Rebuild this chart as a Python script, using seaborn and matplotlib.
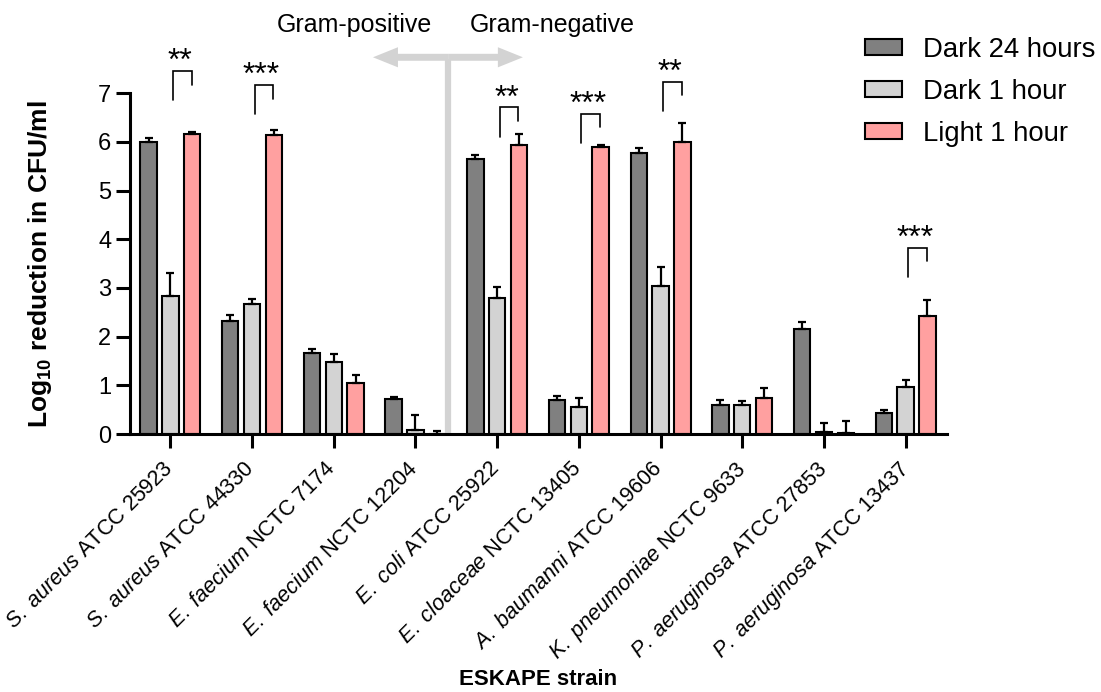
import matplotlib

matplotlib.use("Agg")

import matplotlib.pyplot as plt
import matplotlib.transforms as mtransforms
import pandas as pd
import seaborn as sns
from matplotlib.patches import FancyArrowPatch


species = ["S. aureus", "S. aureus", "E. faecium", "E. faecium", "E. coli",
           "E. cloaceae", "A. baumanni", "K. pneumoniae", "P. aeruginosa", "P. aeruginosa"]
strain_ids = ["ATCC 25923", "ATCC 44330", "NCTC 7174", "NCTC 12204", "ATCC 25922",
              "NCTC 13405", "ATCC 19606", "NCTC 9633", "ATCC 27853", "ATCC 13437"]
conditions = ["Dark 24 hours", "Dark 1 hour", "Light 1 hour"]

dark24 = [6.00, 2.33, 1.67, 0.72, 5.64, 0.70, 5.78, 0.60, 2.15, 0.44]
dark24_err = [0.09, 0.11, 0.07, 0.05, 0.10, 0.09, 0.09, 0.09, 0.16, 0.06]
dark1 = [2.83, 2.67, 1.48, 0.09, 2.80, 0.55, 3.05, 0.60, 0.04, 0.96]
dark1_err = [0.47, 0.11, 0.17, 0.31, 0.23, 0.19, 0.39, 0.08, 0.19, 0.14]
light1 = [6.17, 6.15, 1.05, 0.01, 5.93, 5.89, 6.00, 0.74, 0.03, 2.43]
light1_err = [0.04, 0.10, 0.16, 0.06, 0.23, 0.05, 0.40, 0.21, 0.24, 0.32]

# significance: Dark 1 hour vs Light 1 hour
sig_groups = [0, 1, 4, 5, 6, 9]
sig_labels = ["**", "***", "**", "***", "**", "***"]
sig_levels = [7.46, 7.17, 6.71, 6.58, 7.24, 3.83]

colors = ["#808080", "#d3d3d3", "#ffa0a0"]


def build_frame():
    labels = [f"{sp} {sid}" for sp, sid in zip(species, strain_ids)]
    rows = []
    for cond, vals in zip(conditions, [dark24, dark1, light1]):
        for lab, v in zip(labels, vals):
            rows.append({"strain": lab, "condition": cond, "value": v})
    return pd.DataFrame(rows), labels


def main():
    sns.set_style("ticks")
    plt.rcParams["font.family"] = ["Liberation Sans", "DejaVu Sans"]
    plt.rcParams["mathtext.fontset"] = "custom"
    plt.rcParams["mathtext.rm"] = "Liberation Sans"
    plt.rcParams["mathtext.it"] = "Liberation Sans:italic"
    plt.rcParams["mathtext.bf"] = "Liberation Sans:bold"
    plt.rcParams["text.color"] = "black"
    plt.rcParams["axes.labelcolor"] = "black"
    plt.rcParams["xtick.color"] = "black"
    plt.rcParams["ytick.color"] = "black"
    plt.rcParams["axes.edgecolor"] = "black"

    df, labels = build_frame()

    fig = plt.figure(figsize=(11.01, 6.92), dpi=100)
    ax = fig.add_axes([129.5 / 1101, 1 - 434 / 692, 817 / 1101, (434 - 93.3) / 692])

    sns.barplot(data=df, x="strain", y="value", hue="condition", order=labels,
                hue_order=conditions, palette=colors, saturation=1,
                edgecolor="black", linewidth=1.5, gap=0.25, errorbar=None,
                legend=True, ax=ax)

    for cont, errs in zip(ax.containers, [dark24_err, dark1_err, light1_err]):
        xs = [p.get_x() + p.get_width() / 2 for p in cont.patches]
        ys = [p.get_height() for p in cont.patches]
        ax.errorbar(xs, ys, yerr=[[0] * len(errs), errs], fmt="none",
                    ecolor="black", elinewidth=1.6, capsize=3, capthick=1.6,
                    zorder=1)

    ax.set_xlim(-0.5, 9.5)
    ax.set_ylim(0, 7)
    ax.set_yticks(range(0, 8))
    sns.despine(ax=ax)
    for side in ("left", "bottom"):
        ax.spines[side].set_linewidth(2.2)
    ax.tick_params(axis="both", width=2.2, length=10, color="black")
    ax.tick_params(axis="y", labelsize=17, pad=3)

    tick_texts = []
    for sp, sid in zip(species, strain_ids):
        tick_texts.append(r"$\mathit{" + sp.replace(" ", r"\ ") + "}$ " + sid)
    ax.set_xticks(range(len(labels)))
    ax.set_xticklabels(tick_texts, rotation=45, ha="right",
                       rotation_mode="anchor", fontsize=15.5)
    ax.tick_params(axis="x", pad=5)
    shift = mtransforms.ScaledTranslation(-6 / 72, -2 / 72, fig.dpi_scale_trans)
    for t in ax.get_xticklabels():
        t.set_transform(t.get_transform() + shift)

    ax.set_xlabel("ESKAPE strain", fontsize=16, fontweight="bold", labelpad=3)
    ax.set_ylabel(r"Log$_{\mathbf{10}}$ reduction in CFU/ml", fontsize=19,
                  fontweight="bold", labelpad=32)

    # significance brackets between Dark 1 hour and Light 1 hour
    for g, lab, lvl in zip(sig_groups, sig_labels, sig_levels):
        x0, x1 = g + 0.03, g + 0.26
        ax.plot([x0, x0, x1, x1], [lvl - 0.6, lvl, lvl, lvl - 0.28],
                color="black", lw=1.2, clip_on=False, solid_joinstyle="miter")
        ax.text((x0 + x1) / 2 - 0.03, lvl + 0.02, lab, ha="center",
                va="baseline", fontsize=23, clip_on=False)

    # Gram-positive / Gram-negative divider
    split_x = 3.4
    ax.plot([split_x, split_x], [0, 7.7], color="#d3d3d3", lw=4.5,
            clip_on=False, zorder=0.5, solid_capstyle="butt")
    for end in (2.48, 4.315):
        arr = FancyArrowPatch((split_x, 7.74), (end, 7.74),
                              arrowstyle="simple,head_length=1.8,head_width=1.45,tail_width=0.5",
                              mutation_scale=10, color="#d3d3d3", lw=0,
                              shrinkA=0, shrinkB=0, clip_on=False)
        ax.add_patch(arr)
    ax.text(3.2, 8.4, "Gram-positive", ha="right", va="center", fontsize=18)
    ax.text(3.67, 8.4, "Gram-negative", ha="left", va="center", fontsize=18)

    handles, leg_labels = ax.get_legend_handles_labels()
    ax.get_legend().remove()
    fig.legend(handles, leg_labels, loc="upper left",
               bbox_to_anchor=(840 / 1101, 1 - 12 / 692), frameon=False,
               fontsize=19.8, handlelength=1.35, handleheight=0.48,
               handletextpad=0.75, labelspacing=0.58)

    fig.savefig("out.png", dpi=100)
    plt.close(fig)


if __name__ == "__main__":
    main()
